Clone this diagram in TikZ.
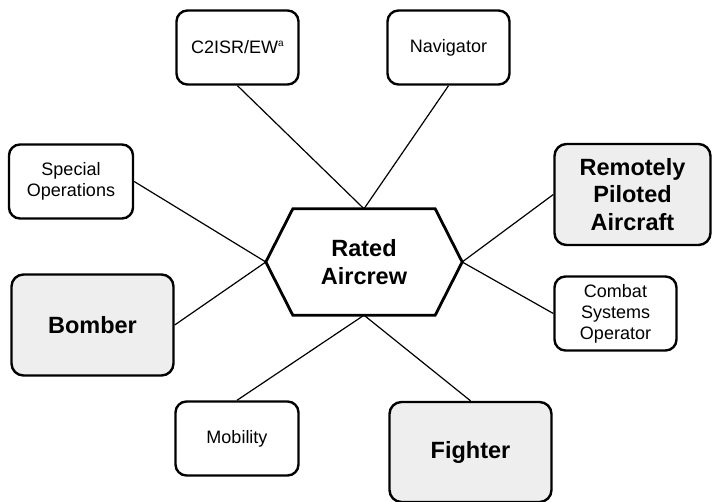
\documentclass[tikz,border=0pt]{standalone}
\usepackage{fontspec}
\setmainfont{Liberation Sans}
\definecolor{boxgray}{HTML}{EEEEEE}
\tikzset{
  smallbox/.style={draw, line width=2.4pt, rounded corners=11pt, fill=white,
    minimum width=122pt, minimum height=74pt, align=center, inner sep=2pt,
    font=\fontsize{18}{21}\selectfont},
  bigbox/.style={draw, line width=2.4pt, rounded corners=12pt, fill=boxgray,
    minimum width=162pt, minimum height=101pt, align=center, inner sep=2pt,
    font=\fontsize{23.5}{27.5}\selectfont\bfseries},
  link/.style={line width=1.2pt},
}
\begin{document}
\begin{tikzpicture}[x=1pt,y=-1pt]
\useasboundingbox (0,0) rectangle (712,502);
% centre hexagon
\node[minimum width=196pt, minimum height=106pt, inner sep=0pt, align=center,
      font=\fontsize{23.5}{28}\selectfont\bfseries] (hex) at (364,262) {Rated\\Aircrew};
% boxes
\node[smallbox] (c2)  at (237.5,47.5) {C2ISR/EW\raisebox{7pt}{\fontsize{10}{10}\selectfont a}};
\node[smallbox] (nav) at (448.5,47.5) {Navigator};
\node[smallbox, minimum width=124pt] (spec) at (71,181.5) {Special\\Operations};
\node[bigbox] (bomber) at (92.5,325) {Bomber};
\node[bigbox, minimum width=156pt] (rpa) at (632.5,194.5) {Remotely\\Piloted\\Aircraft};
\node[smallbox] (cso) at (615.5,313.5) {Combat\\Systems\\Operator};
\node[smallbox, minimum width=123pt] (mob) at (237,438.5) {Mobility};
\node[bigbox, minimum height=100pt] (fighter) at (470.5,452) {Fighter};
% connectors
\draw[link] (c2.south) -- (hex.north);
\draw[link] (nav.south) -- (hex.north);
\draw[link] (spec.east) -- (hex.west);
\draw[link] (bomber.east) -- (hex.west);
\draw[link] (rpa.west) -- (hex.east);
\draw[link] (cso.west) -- (hex.east);
\draw[link] (mob.north) -- (hex.south);
\draw[link] (fighter.north) -- (hex.south);
% hexagon outline
\draw[line width=2.8pt, line join=miter, fill=white]
  ([xshift=27pt]hex.north west) -- ([xshift=-27pt]hex.north east) -- (hex.east)
  -- ([xshift=-27pt]hex.south east) -- ([xshift=27pt]hex.south west) -- (hex.west) -- cycle;
\node[font=\fontsize{23.5}{28}\selectfont\bfseries, align=center] at (hex.center) {Rated\\Aircrew};
\end{tikzpicture}
\end{document}
